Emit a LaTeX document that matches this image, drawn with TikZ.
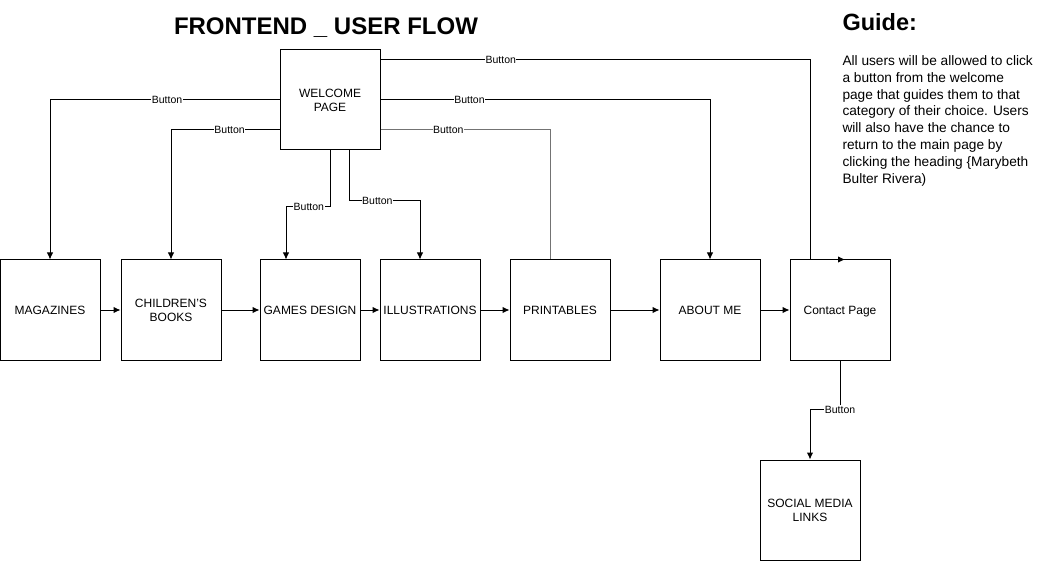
\documentclass[tikz,border=0pt]{standalone}
\usepackage{fontspec}
\setmainfont{Liberation Sans}
\usetikzlibrary{arrows,arrows.meta,positioning}
\tikzstyle{page}=[draw,minimum width=100pt,minimum height=100pt,inner sep=1pt,align=center,font=\fontsize{12}{14}\selectfont]
\tikzstyle{btn}=[fill=white,inner sep=0.5pt,font=\fontsize{10.5}{12}\selectfont]

\begin{document}
\begin{tikzpicture}[x=1pt,y=-1pt,line width=1pt,>={Latex[length=7pt,width=6.5pt]}]
\useasboundingbox (0,0) rectangle (1041,561);
\node [font=\bfseries\fontsize{24}{28}\selectfont] (title) at (326,27.5) {FRONTEND \_ USER FLOW};
\node [page] (w) at (330,100) {WELCOME\\PAGE};
\node [page] (mag) at (50,310) {MAGAZINES};
\node [page] (chb) at (171,310) {CHILDREN'S\\BOOKS};
\node [page] (gam) at (310,310) {GAMES DESIGN};
\node [page] (ill) at (430,310) {ILLUSTRATIONS};
\node [page] (prt) at (560,310) {PRINTABLES};
\node [page] (abt) at (710,310) {ABOUT ME};
\node [page,text depth=0pt] (con) at (840,310) {Contact Page};
\node [page] (soc) at (810,510) {SOCIAL MEDIA\\LINKS};

% guide text
\node [anchor=west,inner sep=0pt,font=\bfseries\fontsize{23.5}{27}\selectfont] (guide) at (842,22) {Guide:};
\node [anchor=north west,inner sep=0pt,align=left,font=\fontsize{13.7}{16.8}\selectfont] (note) at (842,55)
  {All users will be allowed to click\\a button from the welcome\\page that guides them to that\\category of their choice. Users\\will also have the chance to\\return to the main page by\\clicking the heading {\{}Marybeth\\Bulter Rivera)};

% buttons from the welcome page
\draw[->] (w.west) -| node[btn,pos=0.245] {Button} (mag.north);
\draw[->] ([yshift=-30pt]w.west) -| node[btn,pos=0.23] {Button} (chb.north);
\draw[->] (w.south) -- ++(0,56) -| node[btn,pos=0.24] {Button} ([xshift=-24pt]gam.north);
\draw[->] ([xshift=19pt]w.south) -- ++(0,50) -| node[btn,pos=0.2] {Button} ([xshift=-10pt]ill.north);
\draw[black!55] ([yshift=-30pt]w.east) -| node[btn,text=black,pos=0.2] {Button} ([xshift=-10pt]prt.north);
\draw[->] (w.east) -| node[btn,pos=0.135] {Button} (abt.north);
\draw[->] ([yshift=40pt]w.east) -| node[btn,pos=0.14] {Button} ([xshift=-30pt]con.north) -- ([xshift=5pt]con.north);

% main row
\draw[->] (mag) -- (chb);
\draw[->] (chb) -- (gam);
\draw[->] (gam) -- (ill);
\draw[->] (ill) -- (prt);
\draw[->] (prt) -- (abt);
\draw[->] (abt) -- (con);

\draw[->] (con.south) -- ++(0,49) -| node[btn,pos=0] {Button} (soc.north);
\end{tikzpicture}
\end{document}
